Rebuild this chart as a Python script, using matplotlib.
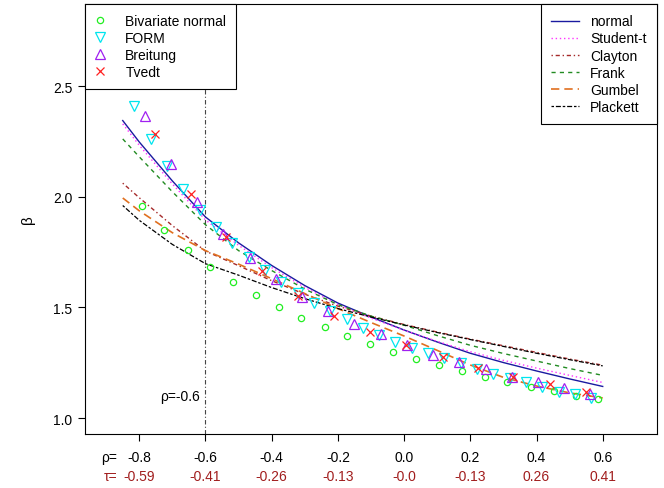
import matplotlib
matplotlib.use("Agg")
import matplotlib.pyplot as plt
from matplotlib.lines import Line2D

plt.rcParams['font.family'] = ['Liberation Sans', 'DejaVu Sans']

# reliability index beta vs correlation rho
line_rho = [-0.85, -0.8, -0.7, -0.6, -0.5, -0.4, -0.3, -0.2, -0.1, 0.0, 0.1, 0.2, 0.3, 0.4, 0.5, 0.6]
normal = [2.345, 2.248, 2.072, 1.909, 1.792, 1.690, 1.599, 1.520, 1.457, 1.398, 1.344, 1.293, 1.251, 1.213, 1.177, 1.143]
student = [2.330, 2.233, 2.058, 1.896, 1.781, 1.680, 1.591, 1.513, 1.452, 1.397, 1.347, 1.300, 1.261, 1.226, 1.193, 1.161]
clayton = [2.062, 1.996, 1.870, 1.755, 1.689, 1.621, 1.560, 1.506, 1.461, 1.423, 1.389, 1.357, 1.327, 1.297, 1.267, 1.239]
frank = [2.262, 2.181, 2.023, 1.874, 1.757, 1.667, 1.583, 1.513, 1.461, 1.420, 1.373, 1.329, 1.292, 1.258, 1.224, 1.193]
gumbel = [1.995, 1.937, 1.838, 1.757, 1.696, 1.630, 1.563, 1.495, 1.432, 1.371, 1.306, 1.240, 1.184, 1.145, 1.114, 1.091]
plackett = [1.961, 1.894, 1.785, 1.698, 1.646, 1.590, 1.540, 1.495, 1.457, 1.421, 1.387, 1.355, 1.324, 1.293, 1.264, 1.236]

bvn_rho = [-0.793, -0.724, -0.654, -0.587, -0.517, -0.448, -0.379, -0.310, -0.240, -0.173, -0.103,
           -0.033, 0.036, 0.106, 0.174, 0.244, 0.311, 0.382, 0.453, 0.518, 0.586]
bvn_beta = [1.957, 1.850, 1.760, 1.683, 1.617, 1.555, 1.501, 1.453, 1.412, 1.371, 1.334,
            1.300, 1.268, 1.241, 1.212, 1.187, 1.164, 1.142, 1.122, 1.102, 1.084]

form_rho = [-0.815, -0.766, -0.716, -0.667, -0.618, -0.568, -0.519, -0.470, -0.421, -0.371,
            -0.322, -0.273, -0.223, -0.174, -0.125, -0.075, -0.026, 0.023, 0.072, 0.122,
            0.171, 0.220, 0.270, 0.319, 0.368, 0.418, 0.467, 0.516, 0.565]
form_beta = [2.410, 2.262, 2.139, 2.037, 1.939, 1.864, 1.792, 1.730, 1.668, 1.613,
             1.566, 1.521, 1.485, 1.449, 1.409, 1.375, 1.345, 1.318, 1.292, 1.270,
             1.247, 1.222, 1.197, 1.179, 1.164, 1.142, 1.119, 1.107, 1.092]

breitung_rho = [-0.784, -0.705, -0.626, -0.546, -0.467, -0.388, -0.309, -0.230, -0.150,
                -0.071, 0.008, 0.087, 0.166, 0.246, 0.325, 0.404, 0.483, 0.562]
breitung_beta = [2.367, 2.149, 1.977, 1.833, 1.724, 1.627, 1.548, 1.483, 1.427,
                 1.378, 1.329, 1.287, 1.255, 1.221, 1.187, 1.164, 1.137, 1.107]

tvedt_rho = [-0.753, -0.645, -0.539, -0.429, -0.320, -0.211, -0.103, 0.007, 0.116, 0.224, 0.330, 0.440, 0.551]
tvedt_beta = [2.285, 2.015, 1.819, 1.665, 1.552, 1.462, 1.390, 1.329, 1.274, 1.227, 1.187, 1.152, 1.116]

rho_ticks = [-0.8, -0.6, -0.4, -0.2, 0.0, 0.2, 0.4, 0.6]
rho_labels = ["-0.8", "-0.6", "-0.4", "-0.2", "0.0", "0.2", "0.4", "0.6"]
tau_labels = ["-0.59", "-0.41", "-0.26", "-0.13", "-0.0", "-0.13", "0.26", "0.41"]

TAU_COL = "#a11d1d"

fig = plt.figure(figsize=(6.64, 4.89), dpi=100)
ax = fig.add_axes([85 / 664, 1 - 435 / 489, 572 / 664, 430 / 489])

# vertical reference line
ax.axvline(-0.6, color="#444444", lw=0.8, ls=(0, (4, 2, 1, 2)), zorder=1)
ax.text(-0.617, 1.10, "ρ=-0.6", ha="right", va="center", fontsize=10)

# copula curves
ax.plot(line_rho, normal, color="#1a1aa0", lw=1.0, ls="-")
ax.plot(line_rho, student, color="#ff33ff", lw=1.0, ls=(0, (1, 2)))
ax.plot(line_rho, clayton, color="#a52a2a", lw=1.0, ls=(0, (1, 2, 3, 2)))
ax.plot(line_rho, frank, color="#228b22", lw=1.0, ls=(0, (3, 3)))
ax.plot(line_rho, gumbel, color="#e07020", lw=1.2, ls=(0, (5, 3)))
ax.plot(line_rho, plackett, color="black", lw=0.9, ls=(0, (2, 1.5, 4, 1.5)))

# approximation methods
ax.plot(bvn_rho, bvn_beta, "o", ls="none", ms=4.5, mfc="none", mec="#22ee22", mew=0.9)
ax.plot(form_rho, form_beta, "v", ls="none", ms=6.5, mfc="none", mec="#00e5ee", mew=0.9)
ax.plot(breitung_rho, breitung_beta, "^", ls="none", ms=6.5, mfc="none", mec="#a020f0", mew=0.9)
ax.plot(tvedt_rho, tvedt_beta, "x", ls="none", ms=5.5, mec="#ff2020", mew=0.9)

ax.set_xlim(-0.964, 0.764)
ax.set_ylim(0.928, 2.872)
ax.set_yticks([1.0, 1.5, 2.0, 2.5])
ax.set_yticklabels(["1.0", "1.5", "2.0", "2.5"])
ax.set_xticks(rho_ticks)
ax.set_xticklabels([])
ax.tick_params(direction="out", length=5, width=0.8, labelsize=10, pad=4)
for s in ax.spines.values():
    s.set_linewidth(0.8)

ax.set_ylabel("β", fontsize=11)
ax.yaxis.set_label_coords(-0.088, 0.5)

# two rows of x labels: rho (black) and kendall tau (red)
tr = ax.get_xaxis_transform()
for x, r, t in zip(rho_ticks, rho_labels, tau_labels):
    ax.text(x, -0.053, r, transform=tr, ha="center", va="center", fontsize=10)
    ax.text(x, -0.098, t, transform=tr, ha="center", va="center", fontsize=10, color=TAU_COL)
ax.text(-0.866, -0.053, "ρ=", transform=tr, ha="right", va="center", fontsize=10)
ax.text(-0.866, -0.098, "τ=", transform=tr, ha="right", va="center", fontsize=10, color=TAU_COL)

# legends
mk = [
    Line2D([], [], ls="none", marker="o", ms=4.5, mfc="none", mec="#22ee22", mew=0.9),
    Line2D([], [], ls="none", marker="v", ms=6.5, mfc="none", mec="#00e5ee", mew=0.9),
    Line2D([], [], ls="none", marker="^", ms=6.5, mfc="none", mec="#a020f0", mew=0.9),
    Line2D([], [], ls="none", marker="x", ms=5.5, mec="#ff2020", mew=0.9),
]
leg1 = ax.legend(mk, ["Bivariate normal", "FORM", "Breitung", "Tvedt"], loc="upper left",
                 bbox_to_anchor=(0, 1), borderaxespad=0, fancybox=False, framealpha=1,
                 edgecolor="black", fontsize=10, handlelength=0.8, handletextpad=1.4,
                 labelspacing=0.22, borderpad=0.7)
leg1.get_frame().set_linewidth(0.8)
ax.add_artist(leg1)

ln = [
    Line2D([], [], color="#1a1aa0", lw=1.0, ls="-"),
    Line2D([], [], color="#ff33ff", lw=1.0, ls=(0, (1, 2))),
    Line2D([], [], color="#a52a2a", lw=1.0, ls=(0, (1, 2, 3, 2))),
    Line2D([], [], color="#228b22", lw=1.0, ls=(0, (3, 3))),
    Line2D([], [], color="#e07020", lw=1.2, ls=(0, (5, 3))),
    Line2D([], [], color="black", lw=0.9, ls=(0, (2, 1.5, 4, 1.5))),
]
leg2 = ax.legend(ln, ["normal", "Student-t", "Clayton", "Frank", "Gumbel", "Plackett"],
                 loc="upper right", bbox_to_anchor=(1, 1), borderaxespad=0, fancybox=False,
                 framealpha=1, edgecolor="black", fontsize=10, handlelength=2.0,
                 handletextpad=0.8, labelspacing=0.22, borderpad=0.75)
leg2.get_frame().set_linewidth(0.8)

fig.savefig("out.png", dpi=100)
